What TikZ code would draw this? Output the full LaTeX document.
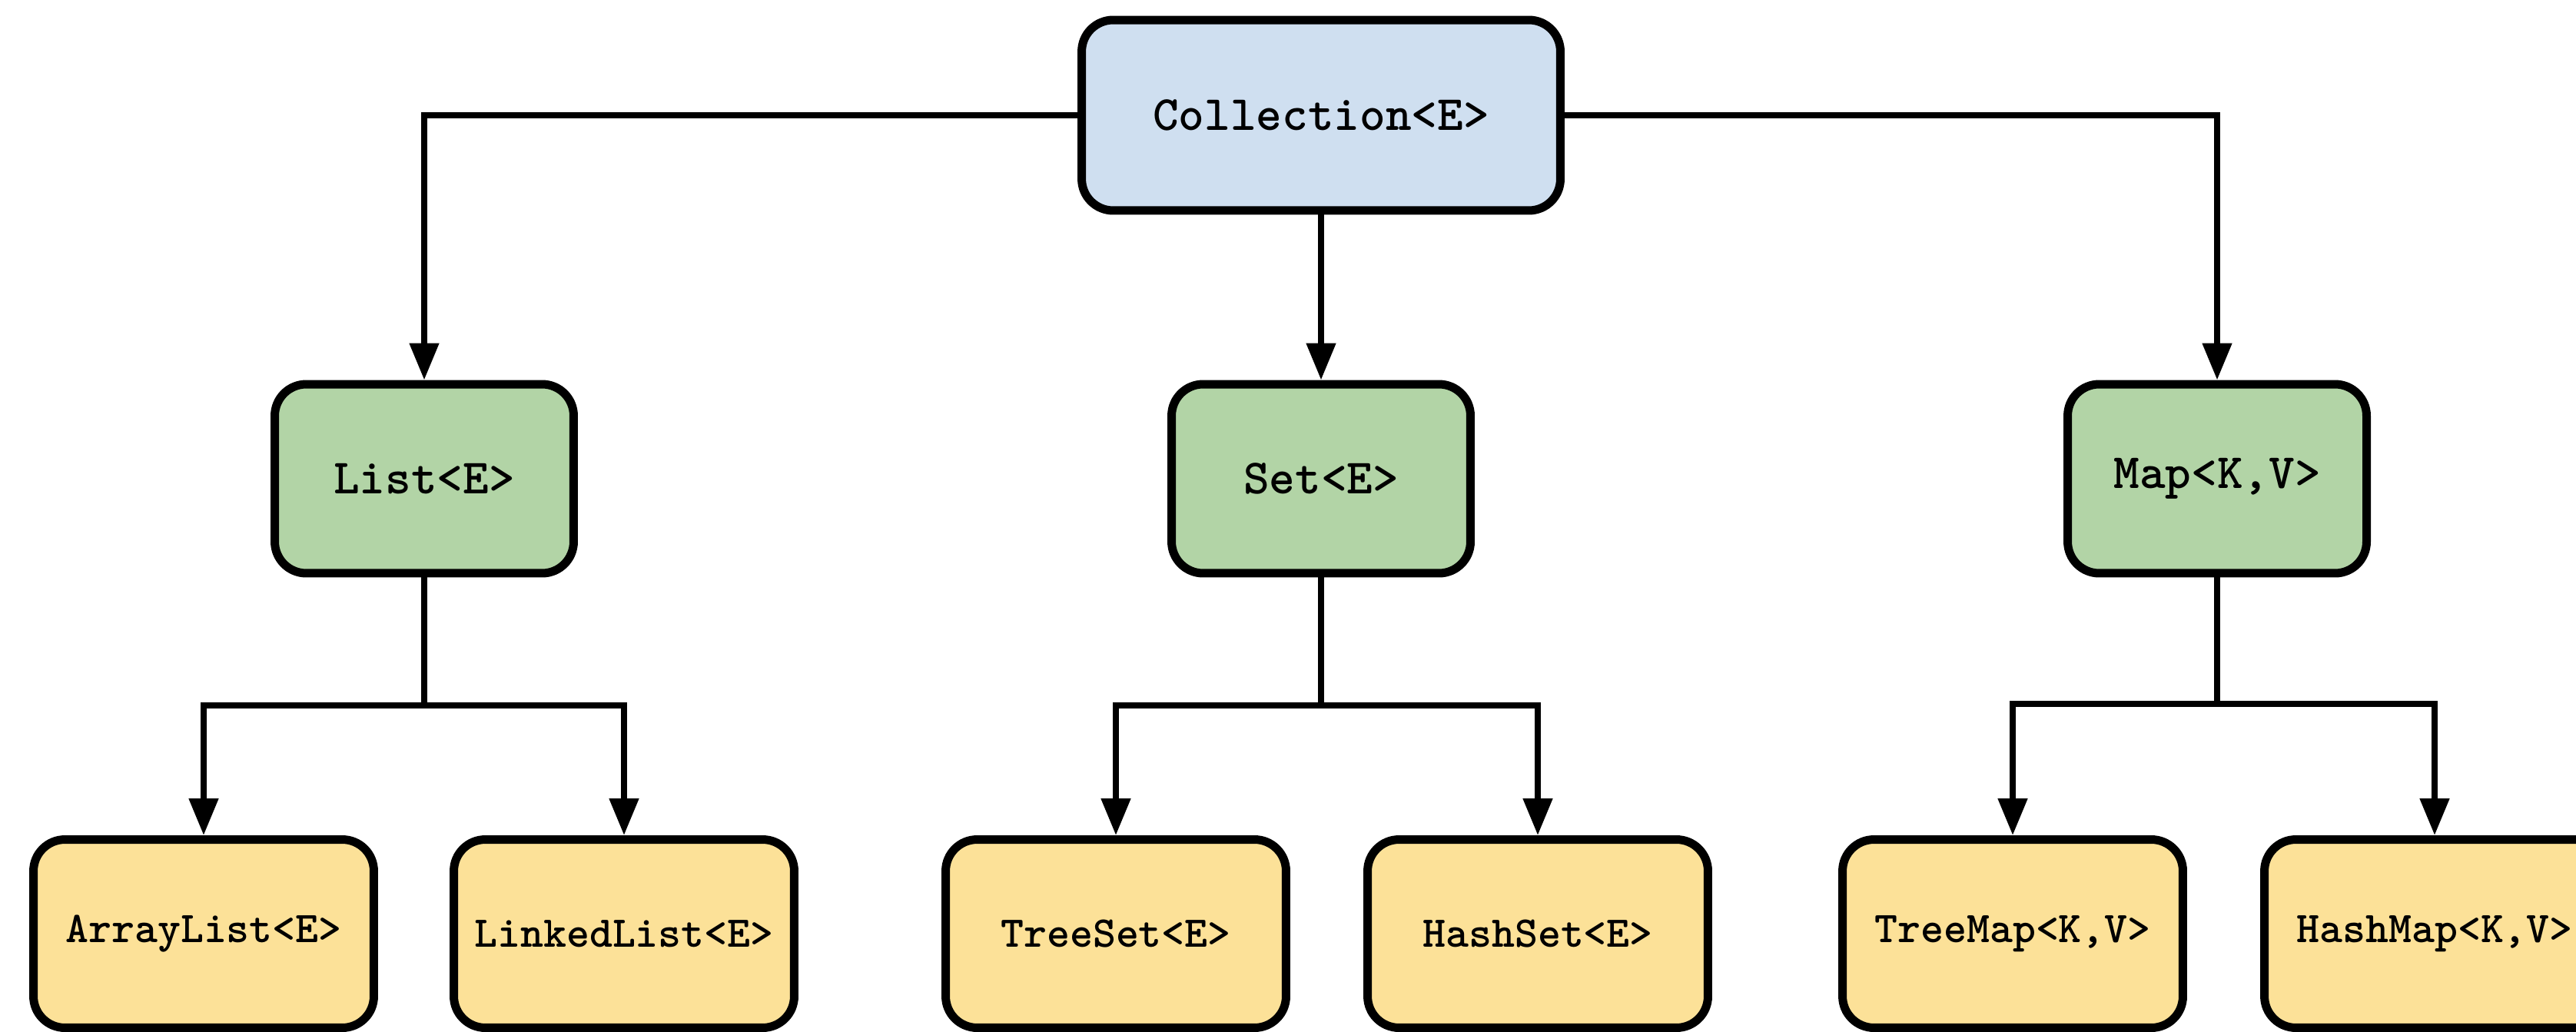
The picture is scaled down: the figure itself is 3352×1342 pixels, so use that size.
\documentclass[tikz,border=0pt]{standalone}
\usepackage{fontspec}
\newfontfamily\codefont{lmmonolt10-bold.otf}
\usetikzlibrary{arrows.meta}

\definecolor{ifaceblue}{RGB}{207,223,240}
\definecolor{ifacegreen}{RGB}{178,212,166}
\definecolor{implyellow}{RGB}{252,225,152}

\tikzset{
  box/.style={draw=black, line width=0.22cm, rounded corners=0.82cm,
              inner sep=0pt, font=\codefont\fontsize{36.5}{40}\selectfont},
  rootbox/.style={box, fill=ifaceblue, minimum width=12.46cm, minimum height=4.96cm},
  midbox/.style={box, fill=ifacegreen, minimum width=7.78cm, minimum height=4.92cm},
  leafbox/.style={box, fill=implyellow, minimum width=8.86cm, minimum height=4.90cm,
                  font=\codefont\fontsize{32.5}{36}\selectfont},
  link/.style={draw=black, line width=0.16cm},
  arr/.style={link, -{Triangle[length=0.96cm,width=0.74cm]}}
}

\begin{document}
\begin{tikzpicture}[x=0.02cm, y=-0.02cm]
  \useasboundingbox (0,0) rectangle (3352,1342);
  \clip (0,0) rectangle (3352,1342);
  \fill[white] (0,0) rectangle (3352,1342);

  % root interface
  \node[rootbox] (coll) at (1719,150) {Collection<E>};

  % sub-interfaces
  \node[midbox] (list) at (552,623)  {List<E>};
  \node[midbox] (set)  at (1719,623) {Set<E>};
  \node[midbox] (map)  at (2885,623) {Map<K,V>};

  % implementations
  \node[leafbox] (alist) at (265,1215)  {ArrayList<E>};
  \node[leafbox] (llist) at (812,1215)  {LinkedList<E>};
  \node[leafbox] (tset)  at (1452,1215) {TreeSet<E>};
  \node[leafbox] (hset)  at (2001,1215) {HashSet<E>};
  \node[leafbox] (tmap)  at (2619,1215) {TreeMap<K,V>};
  \node[leafbox] (hmap)  at (3168,1215) {HashMap<K,V>};

  % branch points below the sub-interfaces
  \coordinate (lj) at (552,918);
  \coordinate (sj) at (1719,918);
  \coordinate (mj) at (2885,916);

  % Collection to its sub-interfaces
  \draw[arr] (coll.west) -| (list.north);
  \draw[arr] (coll.south) -- (set.north);
  \draw[arr] (coll.east) -| (map.north);

  % List branch
  \draw[link] (list.south) -- (lj);
  \draw[arr] (lj) -| (alist.north);
  \draw[arr] (lj) -| (llist.north);

  % Set branch
  \draw[link] (set.south) -- (sj);
  \draw[arr] (sj) -| (tset.north);
  \draw[arr] (sj) -| (hset.north);

  % Map branch
  \draw[link] (map.south) -- (mj);
  \draw[arr] (mj) -| (tmap.north);
  \draw[arr] (mj) -| (hmap.north);
\end{tikzpicture}
\end{document}
